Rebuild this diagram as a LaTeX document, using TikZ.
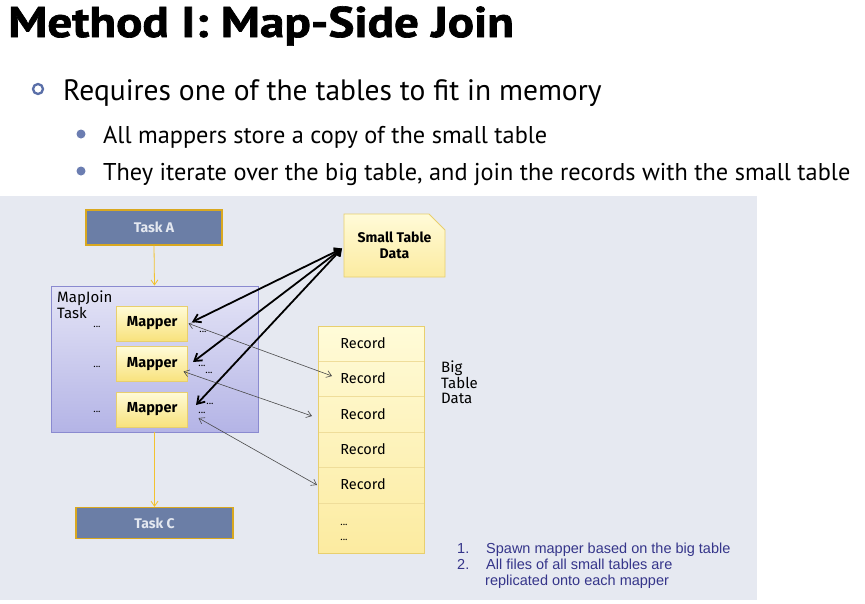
\documentclass[tikz,border=0pt]{standalone}
\usepackage{fontspec}
\setmainfont{PT Sans}
\newfontfamily\titlefont{PT Sans}[BoldFeatures={FakeBold=1.5}]
\newfontfamily\diagfont{Fira Sans}
\newfontfamily\notefont{Liberation Sans}
\usetikzlibrary{arrows.meta,shapes.misc}
\definecolor{panel}{HTML}{E6E9F1}
\definecolor{taskfill}{HTML}{6B7EA6}
\definecolor{taskborder}{HTML}{D9A820}
\definecolor{tasktext}{HTML}{E4E8F0}
\definecolor{mjtop}{HTML}{E4E4F6}
\definecolor{mjbot}{HTML}{B4B4E6}
\definecolor{mjborder}{HTML}{8A8AD0}
\definecolor{ytop}{HTML}{FFFBD8}
\definecolor{ybot}{HTML}{F8E27C}
\definecolor{nbot}{HTML}{FCEBA0}
\definecolor{yborder}{HTML}{E8CF6E}
\definecolor{flowarrow}{HTML}{F2C230}
\definecolor{bulletblue}{HTML}{5A6FA8}
\definecolor{notecol}{HTML}{35358A}
\definecolor{thin}{HTML}{4A4A4A}
\begin{document}
\begin{tikzpicture}[x=1pt,y=-1pt,
  taskbox/.style={draw=taskborder, line width=1.3pt, fill=taskfill, minimum width=136pt, minimum height=35pt, inner sep=0pt, font=\diagfont\bfseries\fontsize{14}{16}\selectfont, text=tasktext},
  mapperbox/.style={draw=yborder, line width=0.8pt, top color=ytop, bottom color=ybot, minimum width=71pt, minimum height=35pt, inner sep=0pt, font=\diagfont\bfseries\fontsize{14.5}{16}\selectfont},
  notebox/.style={chamfered rectangle, chamfered rectangle corners=north east, draw=yborder, line width=0.8pt, top color=ytop, bottom color=nbot, inner sep=0pt},
  rec/.style={font=\diagfont\fontsize{14.5}{16}\selectfont, inner sep=0pt},
  dots/.style={font=\diagfont\fontsize{10}{10}\selectfont, inner sep=0pt, anchor=base},
  flow/.style={draw=flowarrow, line width=0.8pt, -{Straight Barb[length=5pt,width=7pt]}},
  thickarr/.style={line width=1.8pt, {Straight Barb[length=6pt,width=8pt]}-{Straight Barb[length=7pt,width=9pt]}},
  thinarr/.style={draw=thin, line width=0.6pt, {Straight Barb[length=5pt,width=7pt]}-{Straight Barb[length=5pt,width=7pt]}},
  notetext/.style={anchor=base west, inner sep=0pt, text=notecol, font=\notefont\fontsize{14.5}{16}\selectfont}
]
\useasboundingbox (0,0) rectangle (865,603);
\fill[white] (0,0) rectangle (865,603);
\fill[panel] (0,196) rectangle (757,600);

% slide text
\node[anchor=base west, inner sep=0pt, font=\titlefont\bfseries\fontsize{43}{48}\selectfont] (title) at (8,37) {\scalebox{1.14}[1]{Method I: Map-Side Join}};
\node[circle, draw=bulletblue, line width=2.3pt, minimum size=10pt, inner sep=0pt] (b1) at (38,89) {};
\node[anchor=base west, inner sep=0pt, font=\fontsize{29.5}{34}\selectfont] (t1) at (63,100) {Requires one of the tables to fit in memory};
\node[circle, fill=bulletblue!90, minimum size=9pt, inner sep=0pt] (b2) at (81,134) {};
\node[anchor=base west, inner sep=0pt, font=\fontsize{24.3}{28}\selectfont] (t2) at (103,143) {All mappers store a copy of the small table};
\node[circle, fill=bulletblue!90, minimum size=9pt, inner sep=0pt] (b3) at (81,171) {};
\node[anchor=base west, inner sep=0pt, font=\fontsize{24.3}{28}\selectfont] (t3) at (103,180) {They iterate over the big table, and join the records with the small table};

% tasks
\node[taskbox] (taskA) at (154,227.5) {Task A};
\node[taskbox, minimum width=157pt, minimum height=31pt] (taskC) at (154.5,523) {Task C};
\node[draw=mjborder, line width=0.9pt, top color=mjtop, bottom color=mjbot, minimum width=207pt, minimum height=146pt, inner sep=0pt] (mj) at (154.5,359) {};
\node[anchor=north west, align=left, inner sep=0pt, font=\diagfont\fontsize{15}{15.5}\selectfont] (mjl) at (57,291) {MapJoin\\Task};

\node[mapperbox] (m1) at (152.2,323.5) {Mapper};
\node[mapperbox] (m2) at (152.2,364.2) {Mapper};
\node[mapperbox] (m3) at (152.2,409.5) {Mapper};

\node[dots] (l1) at (97,327) {...};
\node[dots] (l2) at (97,367) {...};
\node[dots] (l3) at (97,412) {...};
\node[dots] (d1) at (203,332) {...};
\node[dots] (d2) at (202,366) {...};
\node[dots] (d3) at (209,373) {...};
\node[dots] (d4) at (210,404) {...};
\node[dots] (d5) at (202,413) {...};

\draw[flow] (taskA.south) -- (mj.north);
\draw[flow] (mj.south) -- (taskC.north);

% small table
\node[notebox, chamfered rectangle xsep=8pt, chamfered rectangle ysep=8pt, minimum width=101pt, minimum height=63pt, align=center, font=\diagfont\bfseries\fontsize{14}{16}\selectfont] (small) at (394.5,245.5) {Small Table\\Data};

% big table
\node[notebox, chamfered rectangle xsep=16pt, chamfered rectangle ysep=16pt, minimum width=106pt, minimum height=227pt] (big) at (371,439.5) {};
\foreach \yy in {361,396.7,432.3,467.7,503.3} \draw[yborder!70, line width=0.8pt] (318.5,\yy) -- (423.5,\yy);
\node[rec] (r1) at (363,343) {Record};
\node[rec] (r2) at (363,378.5) {Record};
\node[rec] (r3) at (363,414) {Record};
\node[rec] (r4) at (363,449) {Record};
\node[rec] (r5) at (363,484.5) {Record};
\node[dots] (e1) at (344,525) {...};
\node[dots] (e2) at (344,540) {...};
\node[anchor=north west, align=left, inner sep=0pt, font=\diagfont\fontsize{15}{15.5}\selectfont] (bigl) at (441,361) {Big\\Table\\Data};

% thick arrows
\coordinate (src) at (342,248.5);
\coordinate (k1) at (192,322);
\coordinate (k2) at (193,362);
\coordinate (k3) at (196,405);
\draw[thickarr] (src) -- (k1);
\draw[thickarr] (src) -- (k2);
\draw[thickarr] (src) -- (k3);

% thin arrows
\coordinate (a1) at (188.5,323.5);
\coordinate (a2) at (332,376);
\coordinate (b1s) at (183.5,371.5);
\coordinate (b2s) at (312,416);
\coordinate (c1) at (198.5,418);
\coordinate (c2) at (317,485);
\draw[thinarr] (a1) -- (a2);
\draw[thinarr] (b1s) -- (b2s);
\draw[thinarr] (c1) -- (c2);

% notes
\node[notetext] (n1) at (457,553) {1.};
\node[notetext] (n2) at (486,553) {Spawn mapper based on the big table};
\node[notetext] (n3) at (457,569) {2.};
\node[notetext] (n4) at (486,569) {All files of all small tables are};
\node[notetext] (n5) at (485,585) {replicated onto each mapper};
\end{tikzpicture}
\end{document}
